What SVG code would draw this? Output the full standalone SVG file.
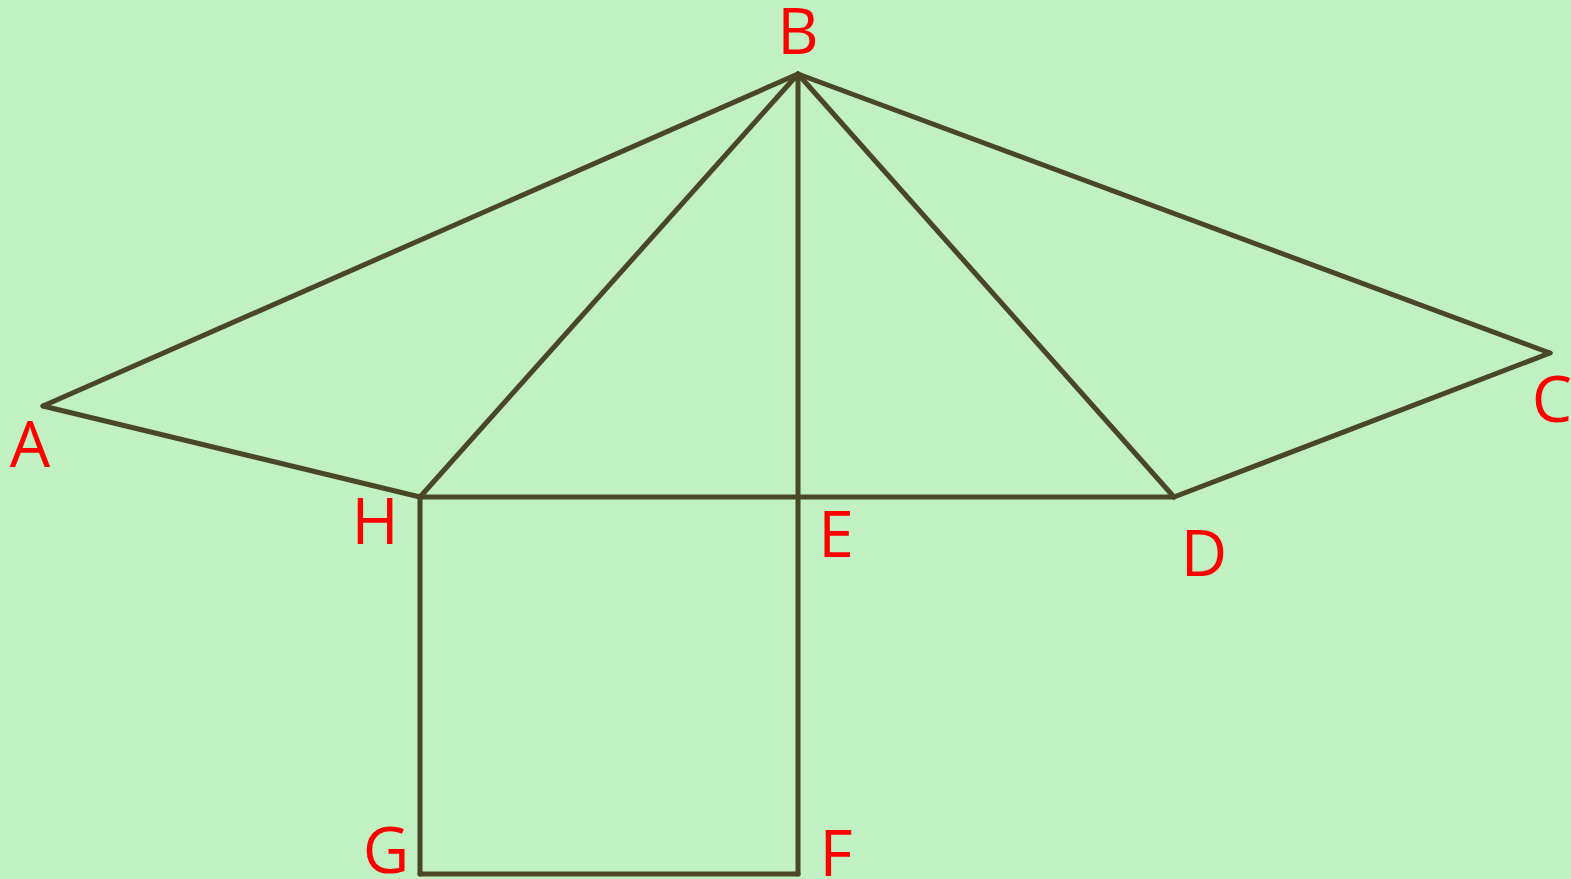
<svg xmlns="http://www.w3.org/2000/svg" width="1571" height="879" viewBox="0 0 1571 879">
<style>
.e{stroke:#4a4726;stroke-width:5;fill:none;stroke-linecap:round;stroke-linejoin:round}
.l{font-family:"Open Sans","Noto Sans",sans-serif;font-size:64px;fill:#ff0000;text-anchor:middle}
</style>
<rect width="1571" height="879" fill="#c1f0c3"/>
<g id="connectors">
<line class="e" x1="43" y1="406" x2="798" y2="74"/>
<line class="e" x1="798" y1="74" x2="1550" y2="353"/>
<line class="e" x1="43" y1="406" x2="420" y2="497"/>
<line class="e" x1="1550" y1="353" x2="1174" y2="497"/>
<line class="e" x1="798" y1="74" x2="420" y2="497"/>
<line class="e" x1="798" y1="74" x2="1174" y2="497"/>
<line class="e" x1="798" y1="74" x2="798" y2="874"/>
<line class="e" x1="420" y1="497" x2="1174" y2="497"/>
<line class="e" x1="420" y1="497" x2="420" y2="874"/>
<line class="e" x1="420" y1="874" x2="798" y2="874"/>
</g>
<g id="B"><text class="l" x="798" y="54">B</text></g>
<g id="A"><text class="l" x="30" y="467">A</text></g>
<g id="C"><text class="l" x="1552" y="422">C</text></g>
<g id="H"><text class="l" x="375" y="544">H</text></g>
<g id="E"><text class="l" x="836" y="557">E</text></g>
<g id="D"><text class="l" x="1204" y="576">D</text></g>
<g id="G"><text class="l" x="386" y="873">G</text></g>
<g id="F"><text class="l" x="836" y="876">F</text></g>
</svg>
